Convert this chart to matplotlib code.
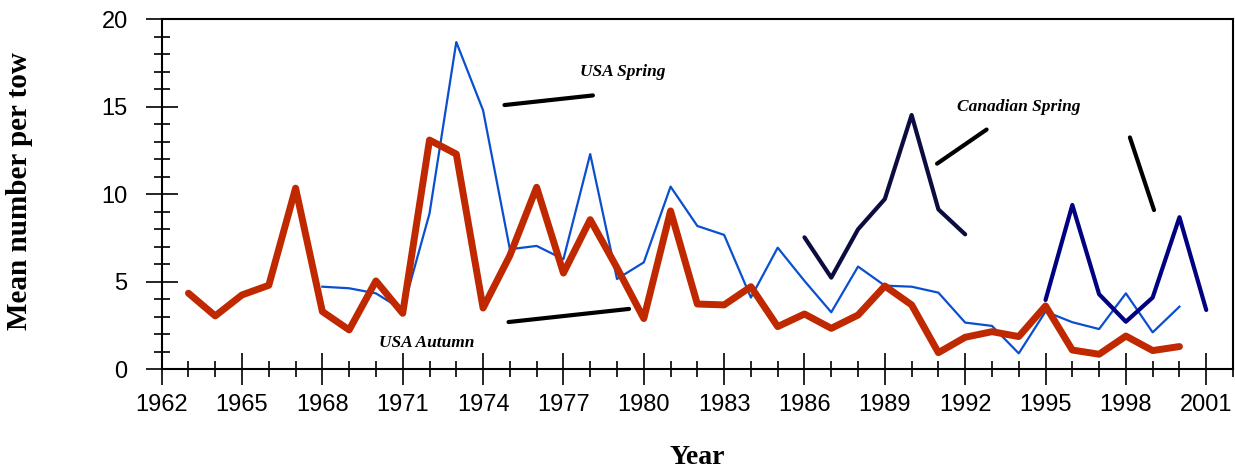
import numpy as np
import matplotlib
matplotlib.use("Agg")
import matplotlib.pyplot as plt
from matplotlib.ticker import MultipleLocator

# USA Autumn survey (thick red)
autumn_years = list(range(1963, 2001))
autumn_vals = [4.35, 3.05, 4.25, 4.8, 10.35, 3.3, 2.25, 5.05, 3.2, 13.1,
               12.3, 3.5, 6.5, 10.4, 5.5, 8.55, 5.8, 2.9, 9.05, 3.73,
               3.68, 4.72, 2.44, 3.16, 2.34, 3.1, 4.76, 3.68, 0.95, 1.83,
               2.15, 1.87, 3.62, 1.1, 0.86, 1.9, 1.07, 1.3]

# USA Spring survey (thin blue)
spring_years = list(range(1968, 2001))
spring_vals = [4.72, 4.63, 4.34, 3.39, 8.9, 18.7, 14.8, 6.86, 7.05, 6.29,
               12.3, 5.16, 6.11, 10.44, 8.19, 7.68, 4.1, 6.95, 5.05, 3.26,
               5.87, 4.78, 4.72, 4.38, 2.67, 2.48, 0.91, 3.3, 2.69, 2.3,
               4.34, 2.11, 3.58]

# Canadian Spring survey, two pieces
can1_years = list(range(1986, 1993))
can1_vals = [7.54, 5.24, 8.0, 9.73, 14.53, 9.14, 7.71]
can2_years = list(range(1995, 2002))
can2_vals = [3.96, 9.39, 4.29, 2.72, 4.1, 8.69, 3.39]

fig = plt.figure(figsize=(12.35, 4.72), dpi=100)
ax = fig.add_axes([0.1309, 0.2176, 0.8675, 0.7415])

ax.plot(spring_years, spring_vals, color="#0a4fd0", lw=1.6)
ax.plot(autumn_years, autumn_vals, color="#c02800", lw=5, solid_joinstyle="round",
        solid_capstyle="round")
ax.plot(can1_years, can1_vals, color="#0c0c40", lw=3, solid_joinstyle="round",
        solid_capstyle="round")
ax.plot(can2_years, can2_vals, color="#000080", lw=3, solid_joinstyle="round",
        solid_capstyle="round")

# leader lines from labels to the series
leaders = [((1974.8, 1978.1), (15.1, 15.65)),
           ((1974.95, 1979.45), (2.7, 3.45)),
           ((1990.95, 1992.8), (11.75, 13.7)),
           ((1998.15, 1999.05), (13.25, 9.1))]
for xs, ys in leaders:
    ax.plot(xs, ys, color="black", lw=3, solid_capstyle="round")

lab_font = dict(family="Liberation Serif", weight="bold", style="italic", fontsize=12.5)
ax.text(1979.2, 17.0, "USA Spring", ha="center", va="center", **lab_font)
ax.text(1971.9, 1.5, "USA Autumn", ha="center", va="center", **lab_font)
ax.text(1994.0, 15.0, "Canadian Spring", ha="center", va="center", **lab_font)

ax.set_xlim(1962, 2002)
ax.set_ylim(0, 20)
ax.xaxis.set_major_locator(MultipleLocator(3))
ax.xaxis.set_minor_locator(MultipleLocator(1))
ax.set_xticks(np.arange(1962, 2002, 3))
ax.yaxis.set_major_locator(MultipleLocator(5))
ax.yaxis.set_minor_locator(MultipleLocator(1))

for s in ax.spines.values():
    s.set_linewidth(1.5)
ax.tick_params(which="major", direction="inout", length=23, width=1.2,
               labelsize=17)
ax.tick_params(which="minor", direction="inout", length=11.5, width=1.2)
ax.tick_params(axis="x", which="major", pad=6)
ax.tick_params(axis="y", which="major", pad=13)
for t in ax.get_xticklabels() + ax.get_yticklabels():
    t.set_family("Liberation Sans")

fig.text(20 / 1235, 0.595, "Mean number per tow", rotation=90, ha="center",
         va="center", family="Liberation Serif", weight="bold", fontsize=21)
fig.text(697 / 1235, 1 - 457 / 472, "Year", ha="center", va="center",
         family="Liberation Serif", weight="bold", fontsize=20)

fig.savefig("out.png", dpi=100)
